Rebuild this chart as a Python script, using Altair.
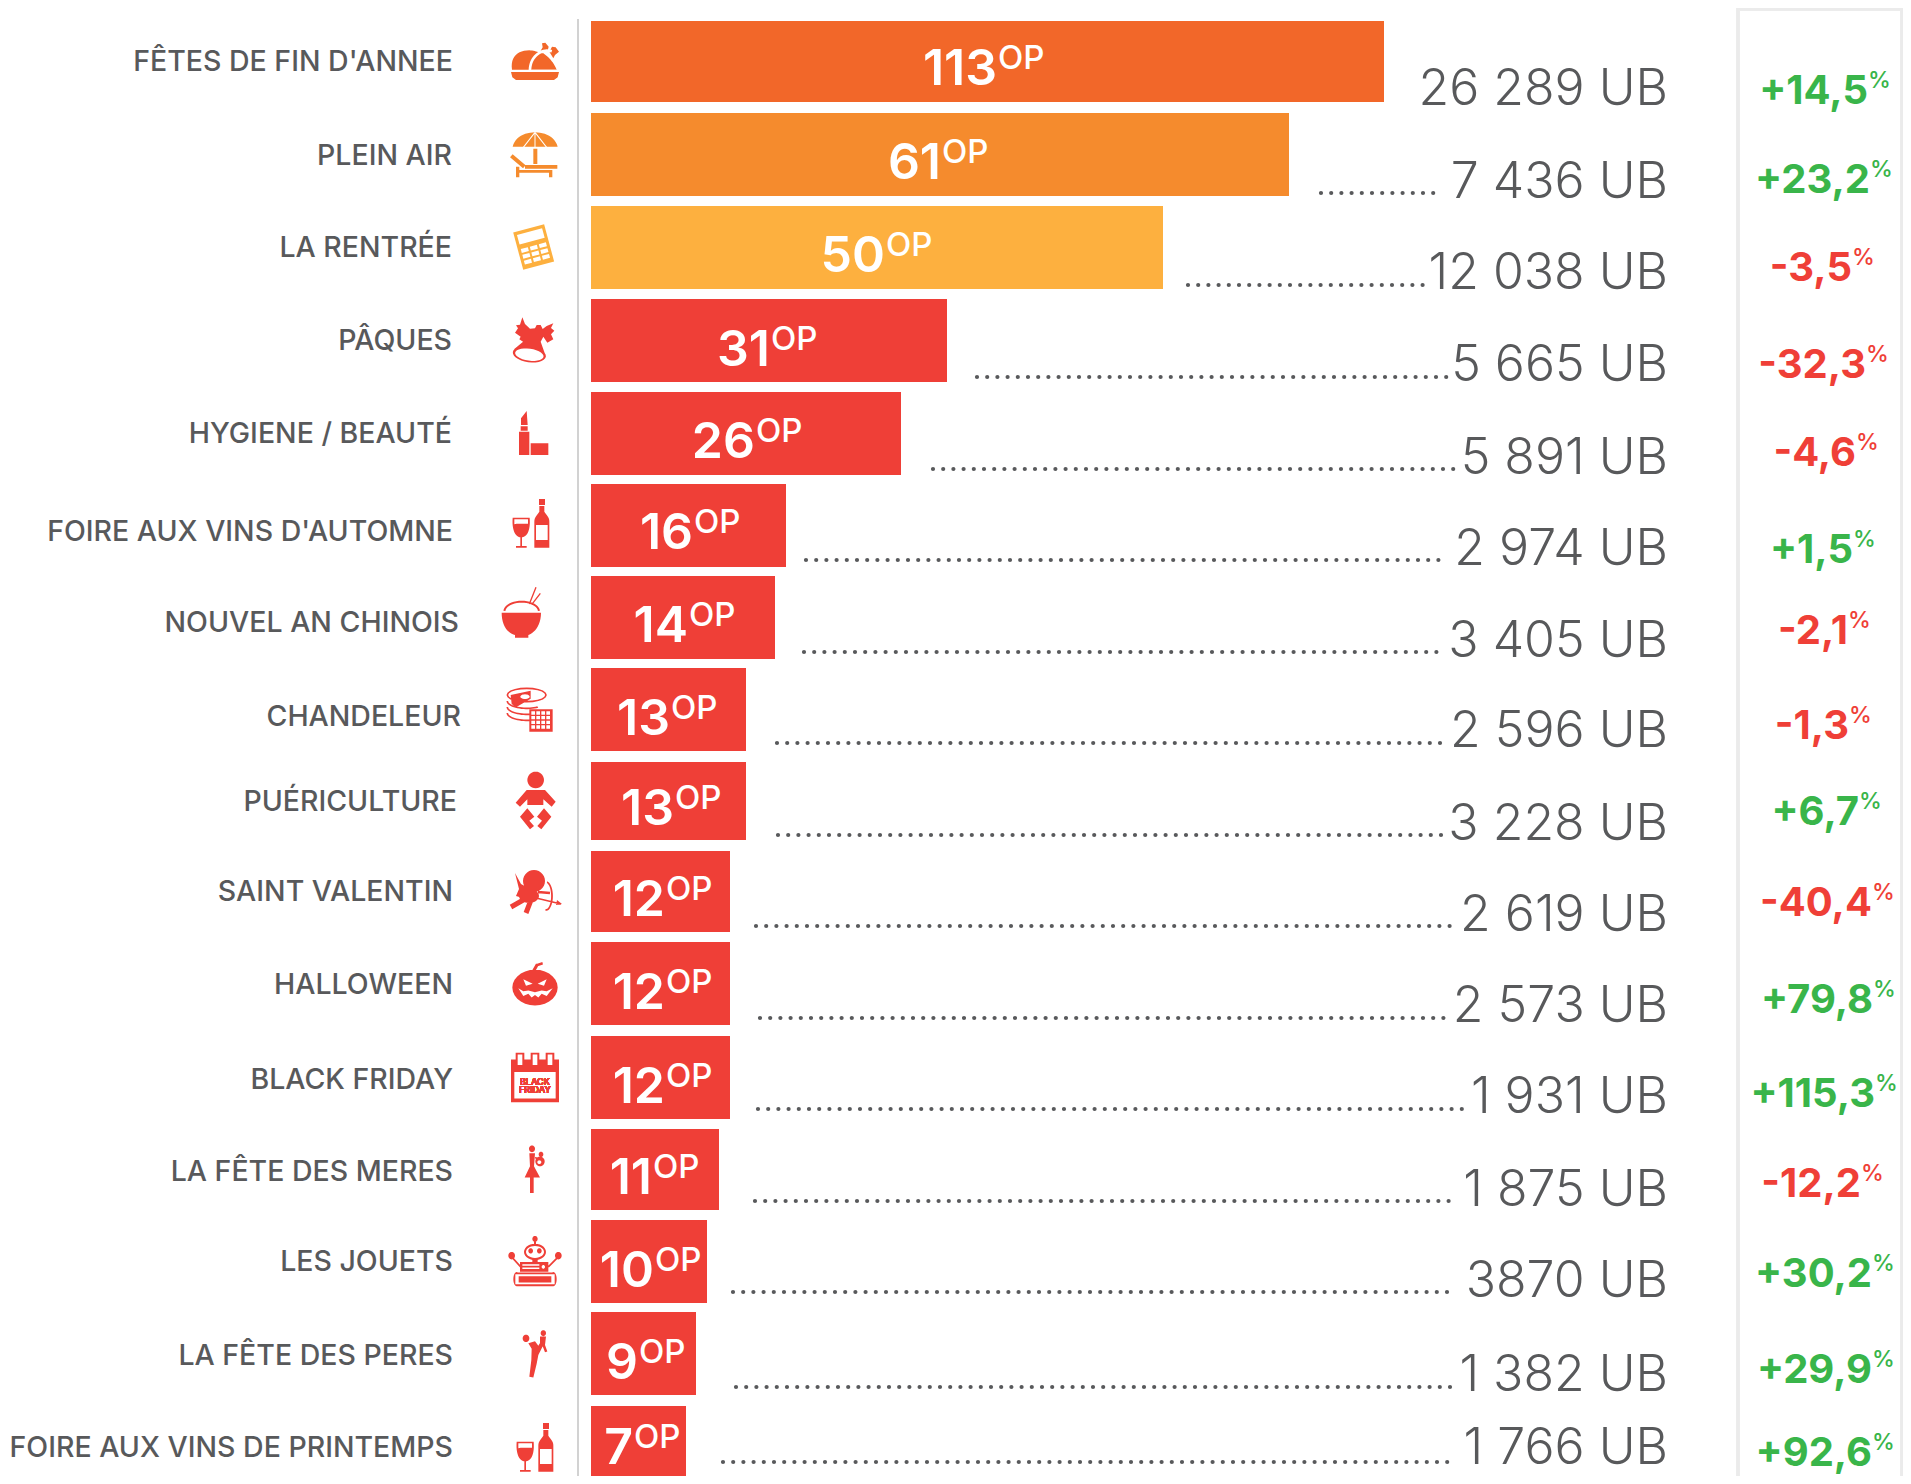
import math
import altair as alt
import pandas as pd

# ---------- values ----------
names = ["FÊTES DE FIN D'ANNEE", "PLEIN AIR", "LA RENTRÉE", "PÂQUES", "HYGIENE / BEAUTÉ",
         "FOIRE AUX VINS D'AUTOMNE", "NOUVEL AN CHINOIS", "CHANDELEUR", "PUÉRICULTURE",
         "SAINT VALENTIN", "HALLOWEEN", "BLACK FRIDAY", "LA FÊTE DES MERES", "LES JOUETS",
         "LA FÊTE DES PERES", "FOIRE AUX VINS DE PRINTEMPS"]
ops = [113, 61, 50, 31, 26, 16, 14, 13, 13, 12, 12, 12, 11, 10, 9, 7]
ubs = ["26 289 UB", "7 436 UB", "12 038 UB", "5 665 UB", "5 891 UB", "2 974 UB", "3 405 UB", "2 596 UB",
       "3 228 UB", "2 619 UB", "2 573 UB", "1 931 UB", "1 875 UB", "3870 UB", "1 382 UB", "1 766 UB"]
pcts = ["+14,5", "+23,2", "-3,5", "-32,3", "-4,6", "+1,5", "-2,1", "-1,3",
        "+6,7", "-40,4", "+79,8", "+115,3", "-12,2", "+30,2", "+29,9", "+92,6"]

rows = list(range(16))
df = pd.DataFrame({
    "row": rows, "bar_end_row": [r + 0.9 for r in rows], "leader_end": [r + 100 for r in rows],
    "name": names, "op": ops, "zero": [0] * 16, "ub": ubs, "pct": pcts,
    "trend": ["down" if p.startswith("-") else "up" for p in pcts],
    "op_unit": ["OP"] * 16, "pct_unit": ["%"] * 16,
})

# ---------- scales (page pixels; the plot area starts 8px in) ----------
M = 8
INK = "#58595b"
RED = "#ef3f37"
GREEN = "#39b54a"
ORANGE1, ORANGE2, YELLOW = "#f26729", "#f58b2d", "#fdb03f"
row_colors = [ORANGE1, ORANGE2, YELLOW] + [RED] * 13
FONT = "Inter"

# The bar lengths of the original are not proportional to the figures: piecewise scale
op_domain = [0, 7, 9, 10, 11, 12, 13, 14, 16, 26, 31, 50, 61, 113]
op_range = [591, 686, 696, 707, 719, 730, 746, 775, 786, 901, 947, 1163, 1289, 1384]

bar_tops = [21, 113, 206, 299, 392, 484, 576, 668, 762, 851, 942, 1036, 1129, 1220, 1312, 1406]
bar_bots = [102, 196, 289, 382, 475, 567, 659, 751, 840, 932, 1025, 1119, 1210, 1303, 1395, 1489]
num_base = [85, 179, 272, 366, 458, 549, 642, 735, 825, 916, 1009, 1103, 1194, 1287, 1379, 1464]
op_join = [997, 941, 885, 770, 755, 693, 688, 670, 674, 665, 665, 665, 652, 654, 638, 633]
label_base = [71, 165, 257, 350, 443, 541, 632, 726, 811, 901, 994, 1089, 1181, 1271, 1365, 1457]
label_right = [453, 452, 452, 452, 452, 453, 459, 461, 457, 453, 453, 453, 453, 453, 453, 453]
ub_base = [105, 198, 289, 381, 474, 565, 657, 747, 840, 931, 1022, 1113, 1206, 1297, 1391, 1464]
dot_y = [100, 193, 285, 377, 469, 560, 652, 743, 835, 926, 1018, 1109, 1201, 1292, 1387, 1462]
dot_from = [1400, 1321, 1188, 977, 933, 806, 804, 777, 778, 756, 760, 758, 755, 733, 736, 723]
dot_to = [1410, 1443, 1425, 1447, 1457, 1444, 1443, 1448, 1448, 1458, 1451, 1470, 1457, 1457, 1457, 1457]
pct_base = [104, 193, 281, 378, 466, 563, 644, 739, 825, 916, 1013, 1107, 1197, 1287, 1383, 1466]
pct_join = [1868, 1870, 1852, 1866, 1856, 1853, 1848, 1849, 1859, 1872, 1873, 1875, 1861, 1872, 1872, 1872]


def px(vals):
    return [v - M for v in vals]


def by_row(vals):
    return alt.Scale(domain=rows, range=px(vals))


def yrow(vals):
    return alt.Y("row:Q", scale=by_row(vals), axis=None)


def xrow(vals):
    return alt.X("row:Q", scale=by_row(vals), axis=None)


# ---------- icons: small vector shapes ----------
ICON_X = 535
ICON_Y0, ICON_STEP = 61.5, 92.3
ICON_SIZE = 64


class Icon:
    def __init__(self, row, ox, oy, kx=3.0, ky=3.0):
        self.ax, self.ay = ICON_X, ICON_Y0 + ICON_STEP * row
        self.ox, self.oy, self.kx, self.ky = ox, oy, kx, ky
        self.parts = {False: [], True: []}

    def t(self, x, y):
        X = self.ox + x / self.kx
        Y = self.oy + y / self.ky
        h = ICON_SIZE / 2
        return f"{(X - self.ax) / h:.4f},{(Y - self.ay) / h:.4f}"

    def poly(self, pts, w=False):
        area = sum(pts[k][0] * pts[(k + 1) % len(pts)][1] - pts[(k + 1) % len(pts)][0] * pts[k][1]
                   for k in range(len(pts)))
        if area < 0:
            pts = pts[::-1]
        s = "M" + "L".join(self.t(*p) for p in pts) + "Z"
        self.parts[w].append(s)

    def rect(self, x0, y0, x1, y1, w=False):
        self.poly([(x0, y0), (x1, y0), (x1, y1), (x0, y1)], w)

    def rot_rect(self, cx, cy, bw, bh, deg, ux=0, uy=0, w=False):
        a = math.radians(deg)
        c, s = math.cos(a), math.sin(a)
        mx, my = cx + ux * c - uy * s, cy + ux * s + uy * c
        pts = []
        for dx, dy in [(-bw / 2, -bh / 2), (bw / 2, -bh / 2), (bw / 2, bh / 2), (-bw / 2, bh / 2)]:
            pts.append((mx + dx * c - dy * s, my + dx * s + dy * c))
        self.poly(pts, w)

    def ell(self, cx, cy, rx, ry=None, w=False, rot=0):
        ry = rx if ry is None else ry
        a = math.radians(rot)
        pts = []
        for i in range(28):
            th = 2 * math.pi * i / 28
            ex, ey = rx * math.cos(th), ry * math.sin(th)
            pts.append((cx + ex * math.cos(a) - ey * math.sin(a), cy + ex * math.sin(a) + ey * math.cos(a)))
        self.poly(pts, w)

    def line(self, x1, y1, x2, y2, width, w=False):
        L = math.hypot(x2 - x1, y2 - y1) or 1
        nx, ny = -(y2 - y1) / L * width / 2, (x2 - x1) / L * width / 2
        self.poly([(x1 + nx, y1 + ny), (x2 + nx, y2 + ny), (x2 - nx, y2 - ny), (x1 - nx, y1 - ny)], w)

    def arc(self, cx, cy, rx, ry, a0, a1, width, w=False):
        out, inn = [], []
        for i in range(21):
            th = math.radians(a0 + (a1 - a0) * i / 20)
            out.append((cx + (rx + width / 2) * math.cos(th), cy + (ry + width / 2) * math.sin(th)))
            inn.append((cx + (rx - width / 2) * math.cos(th), cy + (ry - width / 2) * math.sin(th)))
        self.poly(out + inn[::-1], w)

    def curve(self, start, segs, w=False):
        pts = [start]
        p0 = start
        for a, b, c, d, e, f in segs:
            for k in range(1, 13):
                u = k / 12
                v = 1 - u
                pts.append((v ** 3 * p0[0] + 3 * v * v * u * a + 3 * v * u * u * c + u ** 3 * e,
                            v ** 3 * p0[1] + 3 * v * v * u * b + 3 * v * u * u * d + u ** 3 * f))
            p0 = (e, f)
        self.poly(pts, w)

    def paths(self):
        return "".join(self.parts[False]) or "M0,0", "".join(self.parts[True]) or "M0,0"


def wine(row, dx, dy):
    i = Icon(row, 490 + dx, 480 + dy)
    i.curve((68, 113), [(85, 113, 100, 113, 119, 113), (122, 150, 112, 172, 93, 172), (76, 172, 65, 150, 68, 113)])
    i.curve((73, 118), [(85, 118, 100, 118, 114, 118), (114, 122, 114, 126, 114, 131), (100, 133, 86, 129, 73, 133)], w=True)
    i.rect(91, 170, 96, 198)
    i.rect(78, 198, 110, 203)
    i.rect(147, 57, 165, 75)
    i.rect(148, 78, 163, 95)
    i.curve((148, 95), [(152, 95, 158, 95, 163, 95), (169, 106, 178, 110, 178, 125), (178, 150, 178, 180, 178, 203),
                        (160, 203, 150, 203, 133, 203), (133, 180, 133, 150, 133, 125), (133, 110, 142, 106, 148, 95)])
    i.rect(138, 135, 173, 180, w=True)
    return i


icons = []

# 0 turkey
i = Icon(0, 490, 20)
i.poly([(63, 156), (207, 156), (203, 172), (192, 180), (78, 180), (67, 172)])
i.curve((66, 149), [(60, 110, 85, 90, 118, 91), (135, 91, 150, 100, 160, 100), (175, 110, 190, 125, 200, 149),
                    (150, 149, 100, 149, 66, 149)])
i.poly([(152, 92), (158, 82), (156, 70), (166, 68), (176, 80), (172, 95)])
i.poly([(178, 95), (186, 80), (197, 82), (207, 95), (195, 105), (190, 115)])
i.arc(172, 150, 52, 58, 175, 285, 8, w=True)
i.line(125, 152, 200, 152, 6, w=True)
icons.append(i)

# 1 parasol and lounger
i = Icon(1, 490, 20)
i.curve((68, 380), [(75, 350, 105, 337, 135, 337), (165, 337, 195, 350, 203, 380), (160, 380, 110, 380, 68, 380)])
for x in (100, 135, 170):
    i.line(135, 337, x, 382, 3, w=True)
i.rect(130, 386, 142, 432)
i.line(64, 407, 103, 440, 12)
i.rect(105, 435, 202, 446)
i.rect(78, 450, 187, 458)
i.rect(78, 440, 88, 472)
i.rect(177, 458, 187, 472)
icons.append(i)

# 2 calculator
i = Icon(2, 490, 20)
C = (131, 681)
i.rot_rect(C[0], C[1], 96, 116, -15)
i.rot_rect(C[0], C[1], 78, 30, -15, 0, -33, w=True)
for ur in (2, 20, 38):
    for uc in (-28, 0, 28):
        i.rot_rect(C[0], C[1], 22, 12, -15, uc, ur, w=True)
icons.append(i)

# 3 eagle on a bell
i = Icon(3, 490, 20)
i.poly([(75, 938), (84, 925), (78, 916), (90, 914), (97, 892), (105, 912), (120, 926), (135, 925), (140, 915),
        (152, 915), (158, 927), (170, 918), (190, 910), (183, 924), (193, 932), (183, 943), (190, 958), (172, 968),
        (160, 950), (152, 965), (168, 1010), (72, 988), (112, 955), (100, 966), (88, 958), (92, 950)])
i.ell(118, 1003, 50, 24, rot=8)
i.ell(118, 1004, 43, 18, w=True, rot=8)
i.ell(118, 1006, 38, 14, rot=8)
i.ell(108, 996, 9, 4, w=True)
icons.append(i)

# 4 lipstick
i = Icon(4, 490, 20)
i.rect(87, 1235, 118, 1305)
i.rect(92, 1219, 113, 1232)
i.poly([(93, 1215), (93, 1195), (110, 1173), (113, 1215)])
i.rect(122, 1270, 175, 1305)
icons.append(i)

# 5 wine
icons.append(wine(5, 0, 0))

# 6 rice bowl
i = Icon(6, 490, 480)
i.curve((35, 398), [(70, 398, 120, 398, 153, 398), (153, 440, 130, 460, 115, 465), (115, 468, 115, 470, 115, 473),
                    (100, 473, 90, 473, 75, 473), (75, 470, 75, 468, 75, 465), (55, 460, 35, 440, 35, 398)])
i.arc(95, 395, 52, 30, 185, 355, 6)
i.line(118, 372, 138, 322, 4)
i.line(125, 374, 151, 340, 4)
icons.append(i)

# 7 pancakes and waffle
i = Icon(7, 490, 480)
i.arc(110, 645, 58, 20, 0, 360, 5)
i.poly([(62, 645), (122, 632), (122, 656), (78, 682), (65, 672)])
i.ell(105, 650, 14, 7, w=True)
for dy in (18, 36, 54):
    i.arc(110, 645 + dy, 58, 22, 55, 180, 5)
i.rect(118, 688, 188, 755)
for cx in range(124, 182, 15):
    for cy in range(694, 748, 14):
        i.rect(cx, cy, cx + 11, cy + 10, w=True)
icons.append(i)

# 8 baby
i = Icon(8, 490, 480)
i.ell(137, 900, 25)
i.poly([(110, 930), (165, 930), (197, 965), (185, 980), (160, 958), (160, 975), (112, 975), (112, 958), (90, 980), (77, 968)])
i.poly([(112, 985), (133, 1010), (118, 1022), (132, 1038), (120, 1048), (90, 1010)])
i.poly([(162, 985), (141, 1010), (156, 1022), (142, 1038), (154, 1048), (184, 1010)])
icons.append(i)

# 9 cupid (page pixels)
i = Icon(9, 0, 0, 1.0, 1.0)
i.ell(534, 881, 11)
i.poly([(515, 873), (521, 884), (530, 889), (526, 899), (516, 896), (519, 889)])
i.ell(529, 896, 10, 7)
i.line(525, 899, 511, 907, 5)
i.line(531, 900, 526, 913, 5)
i.line(538, 892, 550, 893, 2.5)
i.arc(546, 896, 6, 14, -80, 95, 1.8)
i.line(536, 898, 561, 904, 1.4)
i.poly([(557, 900), (562, 904), (556, 905)])
icons.append(i)

# 10 pumpkin
i = Icon(10, 490, 900, 3.0, 2.685)
i.ell(135, 235, 68, 48)
i.line(128, 195, 142, 173, 9)
i.line(140, 175, 158, 170, 7)
i.poly([(100, 213), (128, 225), (108, 230)], w=True)
i.poly([(170, 213), (143, 225), (162, 230)], w=True)
i.poly([(85, 237), (100, 245), (115, 243), (135, 248), (155, 243), (170, 245), (188, 237), (170, 258),
        (155, 252), (145, 262), (135, 255), (125, 262), (115, 252), (100, 258)], w=True)
icons.append(i)

# 11 Black Friday calendar
i = Icon(11, 490, 900, 3.0, 2.685)
i.rect(63, 428, 207, 543)
i.rect(73, 462, 197, 533, w=True)
for x in (90, 135, 180):
    i.rect(x - 13, 410, x + 13, 428)
    i.rect(x - 7, 415, x + 7, 443, w=True)
icons.append(i)

# 12 mother and child
i = Icon(12, 490, 900, 3.0, 2.685)
i.ell(126, 668, 9)
i.poly([(118, 680), (135, 680), (132, 715), (150, 745), (104, 745), (120, 715)])
i.rect(120, 745, 131, 787)
i.ell(153, 683, 7)
i.ell(150, 702, 14, 13)
i.ell(148, 704, 6, 5, w=True)
i.line(135, 692, 148, 694, 4)
icons.append(i)

# 13 robot
i = Icon(13, 490, 900, 3.0, 2.685)
i.ell(135, 910, 8)
i.rect(132, 915, 138, 928)
i.ell(135, 945, 33, 22)
i.ell(135, 945, 27, 16, w=True)
i.rect(127, 965, 143, 974)
i.rect(90, 972, 175, 998)
i.rect(97, 978, 148, 982, w=True)
i.rect(97, 987, 148, 991, w=True)
i.ell(160, 985, 5, w=True)
i.rect(80, 1000, 190, 1037)
i.ell(80, 1018, 10, 19)
i.ell(190, 1018, 10, 19)
i.rect(76, 1005, 194, 1032, w=True)
i.line(92, 985, 65, 958, 5)
i.line(175, 985, 205, 958, 5)
i.ell(65, 955, 10)
i.ell(205, 955, 10)
icons.append(i)

# 14 father and child
i = Icon(14, 490, 900, 3.0, 2.685)
i.ell(108, 1177, 10)
i.poly([(115, 1190), (135, 1185), (145, 1197), (158, 1178), (165, 1186), (145, 1222), (140, 1245), (130, 1282),
        (118, 1280), (124, 1235), (125, 1205)])
i.ell(160, 1163, 8)
i.poly([(150, 1172), (168, 1172), (165, 1195), (172, 1212), (165, 1214), (158, 1198), (150, 1205)])
icons.append(i)

# 15 wine again
icons.append(wine(15, 4, 924))

base_paths = [ic.paths()[0] for ic in icons]
white_paths = [ic.paths()[1] for ic in icons]

# Details drawn on top of the white cut-outs
over = {k: Icon(k, 490, 480) for k in rows}
r13 = Icon(13, 490, 900, 3.0, 2.685)
r13.ell(122, 942, 7)
r13.ell(148, 942, 7)
r13.rect(86, 1010, 184, 1027)
over[13] = r13
over_paths = [over[k].paths()[0] for k in rows]

# ---------- layers ----------
W, H = 1895, 1468
base = alt.Chart(df)

axis_line = base.mark_rule(color="#d2d2d2", strokeWidth=2).encode(
    x=alt.value(578 - M), y=alt.value(19 - M), y2=alt.value(H))
box = base.mark_rect(fillOpacity=0, stroke="#ebebeb", strokeWidth=3, clip=True).encode(
    x=alt.value(1738 - M), x2=alt.value(W - 1), y=alt.value(1), y2=alt.value(H + 20))

edge_domain, edge_range = [], []
for r in rows:
    edge_domain += [r, r + 0.9]
    edge_range += [bar_tops[r] - M, bar_bots[r] - M]

bars = base.mark_rect(clip=True).encode(
    x=alt.X("op:Q", scale=alt.Scale(domain=op_domain, range=px(op_range)), axis=None),
    x2="zero:Q",
    y=alt.Y("row:Q", scale=alt.Scale(domain=edge_domain, range=edge_range), axis=None),
    y2="bar_end_row:Q",
    color=alt.Color("row:N", scale=alt.Scale(domain=rows, range=row_colors), legend=None),
)

numbers = base.mark_text(font=FONT, fontSize=50, fontWeight=600, color="white", align="right",
                         baseline="alphabetic").encode(
    x=xrow(op_join), y=yrow(num_base), text="op:N")
op_units = base.mark_text(font=FONT, fontSize=33, fontWeight=500, color="white", align="left",
                          baseline="alphabetic", dy=-16, dx=1).encode(
    x=xrow(op_join), y=yrow(num_base), text="op_unit:N")

labels = base.mark_text(font=FONT, fontSize=28.5, fontWeight=500, color=INK, align="right",
                        baseline="alphabetic").encode(
    x=xrow(label_right), y=yrow(label_base), text="name:N")

icon_y = alt.Y("row:Q", scale=alt.Scale(domain=[0, 15], range=[ICON_Y0 - M, ICON_Y0 + 15 * ICON_STEP - M]), axis=None)
icon_base = base.mark_point(filled=True, size=ICON_SIZE ** 2, opacity=1, strokeWidth=0).encode(
    x=alt.value(ICON_X - M), y=icon_y,
    shape=alt.Shape("name:N", scale=alt.Scale(domain=names, range=base_paths), legend=None),
    color=alt.Color("row:N", scale=alt.Scale(domain=rows, range=row_colors), legend=None),
)
icon_white = base.mark_point(filled=True, size=ICON_SIZE ** 2, opacity=1, strokeWidth=0, color="white").encode(
    x=alt.value(ICON_X - M), y=icon_y,
    shape=alt.Shape("name:N", scale=alt.Scale(domain=names, range=white_paths), legend=None),
)
icon_over = base.mark_point(filled=True, size=ICON_SIZE ** 2, opacity=1, strokeWidth=0, color=RED).encode(
    x=alt.value(ICON_X - M), y=icon_y,
    shape=alt.Shape("name:N", scale=alt.Scale(domain=names, range=over_paths), legend=None),
)
black = base.mark_text(font=FONT, fontSize=9, fontWeight=600, color=RED, align="center",
                       baseline="alphabetic").encode(
    x=alt.value(ICON_X - M), y=alt.value(1085 - M), text=alt.value("BLACK"))
friday = base.mark_text(font=FONT, fontSize=9, fontWeight=600, color=RED, align="center",
                        baseline="alphabetic").encode(
    x=alt.value(ICON_X - M), y=alt.value(1093 - M), text=alt.value("FRIDAY"))

lead_domain = rows + [r + 100 for r in rows]
leaders = base.transform_filter("datum.row > 0").mark_rule(
    color=INK, strokeWidth=4.2, strokeCap="round", strokeDash=[0, 10.2]).encode(
    x=alt.X("row:Q", scale=alt.Scale(domain=lead_domain, range=px(dot_from) + px(dot_to)), axis=None),
    x2="leader_end:Q",
    y=yrow(dot_y),
)

ub_text = base.mark_text(font=FONT, fontSize=50, fontWeight=300, color=INK, align="right",
                         baseline="alphabetic").encode(
    x=alt.value(1668 - M), y=yrow(ub_base), text="ub:N")

trend_color = alt.Color("trend:N", scale=alt.Scale(domain=["up", "down"], range=[GREEN, RED]), legend=None)
pct_text = base.mark_text(font=FONT, fontSize=40, fontWeight=700, align="right", baseline="alphabetic").encode(
    x=xrow(pct_join), y=yrow(pct_base), text="pct:N", color=trend_color)
pct_unit = base.mark_text(font=FONT, fontSize=23, fontWeight=500, align="left", baseline="alphabetic", dy=-16).encode(
    x=xrow(pct_join), y=yrow(pct_base), text="pct_unit:N", color=trend_color)

chart = alt.layer(
    axis_line, box, bars, numbers, op_units, labels, icon_base, icon_white, icon_over, black, friday,
    leaders, ub_text, pct_text, pct_unit,
).resolve_scale(x="independent", y="independent", color="independent", shape="independent").properties(
    width=W, height=H, padding=0, background="white",
    autosize=alt.AutoSizeParams(type="none"),
).configure_view(strokeWidth=0)

chart.save("out.html", embed_options={"renderer": "svg", "actions": False})
